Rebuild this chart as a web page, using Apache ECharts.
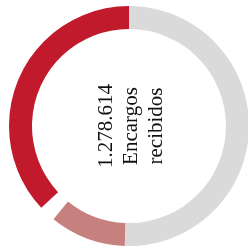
<!DOCTYPE html>
<html>
<head>
<meta charset="utf-8">
<script src="https://cdn.jsdelivr.net/npm/echarts@6/dist/echarts.min.js"></script>
<style>
  html, body { margin: 0; padding: 0; background: #fff; }
  #chart { width: 248px; height: 251px; }
</style>
</head>
<body>
<div id="chart"></div>
<script>
// segmentos del anillo (en sentido antihorario desde las 12)
var names = ["Encargos A", "hueco", "Encargos B", "Resto"];
var values = [133, 8, 37, 182];
var colors = ["#c01a2c", "rgba(0,0,0,0)", "#c6817f", "#dadada"];
var labelLines = ["1.278.614", "Encargos", "recibidos"];

var myChart = echarts.init(document.getElementById("chart"));

var data = [];
values.forEach(function (v, i) {
  data.push({
    name: names[i],
    value: v,
    itemStyle: { color: colors[i] }
  });
});

var option = {
  animation: false,
  series: [
    {
      type: "pie",
      center: [129, 126],
      radius: [97, 120],
      startAngle: 90,
      clockwise: false,
      silent: true,
      label: { show: false },
      labelLine: { show: false },
      data: data
    }
  ],
  graphic: [
    {
      type: "text",
      x: 131,
      y: 126,
      rotation: Math.PI / 2,
      style: {
        text: labelLines.join("\n"),
        fill: "#111",
        font: "21px 'Liberation Serif', serif",
        lineHeight: 25,
        align: "center",
        verticalAlign: "middle"
      }
    }
  ]
};
myChart.setOption(option);
</script>
</body>
</html>
